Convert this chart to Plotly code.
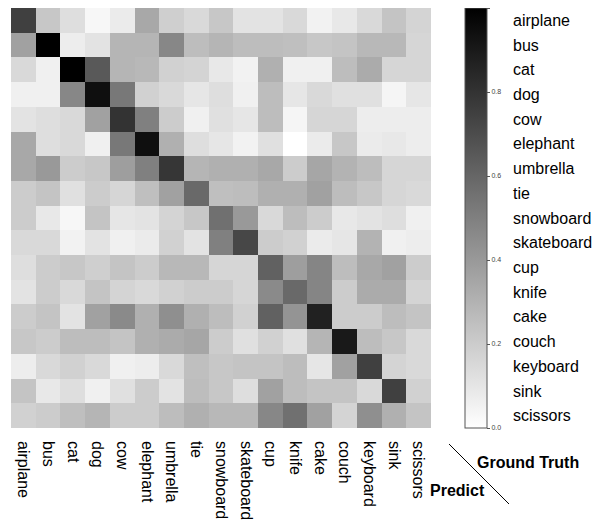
import plotly.graph_objects as go

categories = ["airplane", "bus", "cat", "dog", "cow", "elephant", "umbrella", "tie",
              "snowboard", "skateboard", "cup", "knife", "cake", "couch", "keyboard",
              "sink", "scissors"]

row_airplane   = [0.75, 0.22, 0.13, 0.03, 0.08, 0.34, 0.19, 0.15, 0.22, 0.11, 0.11, 0.15, 0.05, 0.09, 0.15, 0.23, 0.17]
row_bus        = [0.37, 1.00, 0.07, 0.11, 0.29, 0.29, 0.47, 0.26, 0.29, 0.26, 0.26, 0.25, 0.22, 0.23, 0.28, 0.28, 0.16]
row_cat        = [0.15, 0.06, 1.00, 0.65, 0.29, 0.28, 0.18, 0.17, 0.09, 0.05, 0.31, 0.06, 0.06, 0.26, 0.33, 0.16, 0.16]
row_dog        = [0.06, 0.06, 0.47, 0.94, 0.53, 0.18, 0.15, 0.10, 0.13, 0.06, 0.26, 0.10, 0.15, 0.12, 0.12, 0.04, 0.10]
row_cow        = [0.11, 0.13, 0.15, 0.37, 0.80, 0.50, 0.20, 0.06, 0.12, 0.10, 0.26, 0.04, 0.16, 0.16, 0.07, 0.07, 0.07]
row_elephant   = [0.34, 0.13, 0.15, 0.06, 0.53, 0.94, 0.31, 0.13, 0.10, 0.05, 0.12, 0.00, 0.08, 0.22, 0.08, 0.09, 0.07]
row_umbrella   = [0.34, 0.40, 0.20, 0.22, 0.38, 0.50, 0.79, 0.29, 0.31, 0.31, 0.34, 0.20, 0.35, 0.30, 0.26, 0.16, 0.16]
row_tie        = [0.20, 0.23, 0.12, 0.20, 0.16, 0.25, 0.37, 0.59, 0.25, 0.26, 0.31, 0.31, 0.37, 0.26, 0.22, 0.16, 0.15]
row_snowboard  = [0.20, 0.09, 0.03, 0.23, 0.10, 0.11, 0.17, 0.22, 0.56, 0.40, 0.15, 0.26, 0.20, 0.09, 0.11, 0.13, 0.06]
row_skateboard = [0.15, 0.15, 0.05, 0.11, 0.06, 0.08, 0.18, 0.11, 0.50, 0.72, 0.20, 0.18, 0.08, 0.10, 0.30, 0.06, 0.07]
row_cup        = [0.13, 0.20, 0.22, 0.19, 0.23, 0.20, 0.28, 0.28, 0.16, 0.16, 0.62, 0.38, 0.48, 0.26, 0.34, 0.37, 0.20]
row_knife      = [0.11, 0.20, 0.15, 0.23, 0.17, 0.15, 0.18, 0.20, 0.20, 0.16, 0.46, 0.59, 0.48, 0.20, 0.33, 0.33, 0.17]
row_cake       = [0.20, 0.23, 0.11, 0.37, 0.46, 0.31, 0.44, 0.31, 0.26, 0.18, 0.62, 0.42, 0.87, 0.20, 0.20, 0.26, 0.23]
row_couch      = [0.22, 0.20, 0.26, 0.26, 0.23, 0.31, 0.33, 0.35, 0.20, 0.12, 0.18, 0.12, 0.29, 0.90, 0.26, 0.22, 0.15]
row_keyboard   = [0.07, 0.15, 0.18, 0.15, 0.06, 0.07, 0.15, 0.25, 0.22, 0.23, 0.23, 0.26, 0.10, 0.37, 0.75, 0.17, 0.15]
row_sink       = [0.23, 0.09, 0.13, 0.06, 0.12, 0.20, 0.11, 0.26, 0.22, 0.13, 0.37, 0.26, 0.23, 0.23, 0.15, 0.75, 0.18]
row_scissors   = [0.18, 0.20, 0.25, 0.29, 0.20, 0.20, 0.26, 0.31, 0.28, 0.28, 0.47, 0.56, 0.37, 0.17, 0.44, 0.31, 0.23]

z = [row_airplane, row_bus, row_cat, row_dog, row_cow, row_elephant, row_umbrella, row_tie,
     row_snowboard, row_skateboard, row_cup, row_knife, row_cake, row_couch, row_keyboard,
     row_sink, row_scissors]

colorbar_ticks = [0.0, 0.2, 0.4, 0.6, 0.8, 1.0]

FONT = "Liberation Sans, Arial, sans-serif"
W, H = 602, 523
S = 8  # page body offset
ML, MR, MT = 11 - S, 0, 0
PW = W - ML - MR
PH = 420

def px_x(x):
    # screen x -> paper
    return (x - S - ML) / PW

def px_y(y):
    # screen y -> paper
    return 1 - (y - S - MT) / PH

fig = go.Figure(go.Heatmap(
    z=z, x=categories, y=categories,
    colorscale=[[0, "#ffffff"], [1, "#000000"]], zmin=0, zmax=1,
    colorbar=dict(
        x=px_x(465), xanchor="left", xref="paper", xpad=0, ypad=0,
        y=0.5, yanchor="middle", len=1.0, lenmode="fraction",
        thickness=22, outlinewidth=1, outlinecolor="#555555",
        tickvals=colorbar_ticks, ticktext=[f"{v:.1f}" for v in colorbar_ticks],
        ticks="outside", ticklen=3, tickcolor="#555555",
        tickfont=dict(size=7, color="#444444", family=FONT),
    ),
))

fig.update_layout(
    template="none",
    width=W, height=H,
    margin=dict(l=ML, r=MR, t=MT, b=H - MT - PH, autoexpand=False),
    paper_bgcolor="white", plot_bgcolor="white",
    font=dict(family=FONT, size=16, color="#000000"),
    xaxis=dict(domain=[0, 420 / PW], tickangle=90, showgrid=False, zeroline=False,
               ticks="", showline=False, automargin=False, ticklabelstandoff=12,
               tickfont=dict(size=16)),
    yaxis=dict(autorange="reversed", showgrid=False, zeroline=False, ticks="",
               side="right", anchor="free", position=px_x(512), showline=False,
               automargin=False, tickfont=dict(size=16)),
    showlegend=False,
)

fig.add_annotation(text="<b>Ground Truth</b>", x=px_x(475), y=px_y(462), xref="paper", yref="paper",
                   xanchor="left", yanchor="middle", showarrow=False, font=dict(size=16))
fig.add_annotation(text="<b>Predict</b>", x=px_x(428), y=px_y(491), xref="paper", yref="paper",
                   xanchor="left", yanchor="middle", showarrow=False, font=dict(size=16))
fig.add_shape(type="line", xref="paper", yref="paper",
              x0=px_x(449), y0=px_y(444), x1=px_x(509), y1=px_y(504),
              line=dict(color="#000000", width=1))

fig.write_html("out.html")
